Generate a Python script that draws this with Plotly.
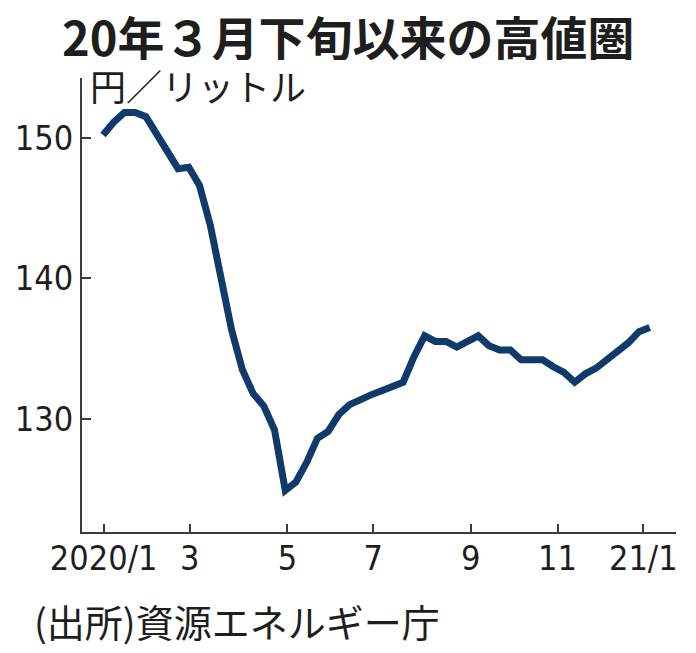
import plotly.graph_objects as go

# Weekly national average regular gasoline retail price (yen/litre), 2020/1 - 2021/1
week_index = list(range(52))
price = [
    150.2, 151.1, 151.8, 151.8, 151.5, 150.2, 148.9, 147.8, 147.9, 146.6,
    143.8, 139.9, 136.3, 133.5, 131.8, 130.9, 129.2, 124.9, 125.5, 126.9,
    128.6, 129.1, 130.3, 131.0, 131.4, 131.7, 132.0, 132.3, 132.6, 134.4,
    135.9, 135.5, 135.5, 135.1, 135.5, 135.9, 135.2, 134.9, 134.9, 134.2,
    134.2, 134.2, 133.7, 133.3, 132.6, 133.2, 133.6, 134.2, 134.8, 135.4,
    136.2, 136.5,
]

x_tick_pos = [0.06, 8.1, 17.2, 25.2, 34.3, 42.4, 50.4]
x_tick_text = ["2020/1", "3", "5", "7", "9", "11", "21/1"]
y_tick_vals = [130, 140, 150]
y_tick_text = ["130", "140", "150"]

title_text = "20年３月下旬以来の高値圏"
unit_text = "円／リットル"
source_text = "(出所)資源エネルギー庁"

CJK = "Noto Sans CJK JP"
NARROW = "Liberation Sans Narrow, DejaVu Sans Condensed, Roboto Condensed, Liberation Sans"
AXIS_COLOR = "#3a3a3a"
TEXT_COLOR = "#1e1e1e"

fig = go.Figure()
fig.add_trace(go.Scatter(
    x=week_index, y=price, mode="lines",
    line=dict(color="#0f3a69", width=7),
    hoverinfo="skip", showlegend=False,
))

fig.update_layout(
    width=696, height=653,
    margin=dict(l=82, r=20, t=78, b=121),
    paper_bgcolor="white", plot_bgcolor="white",
    xaxis=dict(
        range=[-1.96, 53.45], tickmode="array", tickvals=x_tick_pos,
        ticktext=x_tick_text, ticks="inside", ticklen=8, tickwidth=2,
        tickcolor=AXIS_COLOR, showline=True, linecolor=AXIS_COLOR, linewidth=2,
        showgrid=False, zeroline=False, automargin=False,
        ticklabelstandoff=-5,
        tickfont=dict(family=NARROW, size=34, color=TEXT_COLOR),
    ),
    yaxis=dict(
        range=[121.94, 154.25], tickmode="array", tickvals=y_tick_vals,
        ticktext=y_tick_text, ticks="inside", ticklen=9, tickwidth=2,
        tickcolor=AXIS_COLOR, showline=True, linecolor=AXIS_COLOR, linewidth=2,
        showgrid=False, zeroline=False, automargin=False,
        tickfont=dict(family=NARROW, size=34, color=TEXT_COLOR),
    ),
    annotations=[
        dict(text=title_text, xref="paper", yref="paper", x=0.0, y=1.0,
             xanchor="center", yanchor="middle", xshift=266, yshift=43,
             height=50, valign="middle", showarrow=False,
             font=dict(family=CJK, size=47, color=TEXT_COLOR, weight="bold")),
        dict(text=unit_text, xref="paper", yref="paper", x=0.0, y=1.0,
             xanchor="left", yanchor="middle", xshift=6, yshift=-7,
             height=38, valign="middle", showarrow=False,
             font=dict(family=CJK, size=36, color=TEXT_COLOR)),
        dict(text=source_text, xref="paper", yref="paper", x=0.0, y=0.0,
             xanchor="left", yanchor="middle", xshift=-50, yshift=-88, showarrow=False,
             font=dict(family=CJK, size=38, color=TEXT_COLOR)),
    ],
)

fig.write_html(
    "out.html",
    config={"displayModeBar": False},
    post_script="document.body.style.margin='0';document.body.style.padding='0';",
)
